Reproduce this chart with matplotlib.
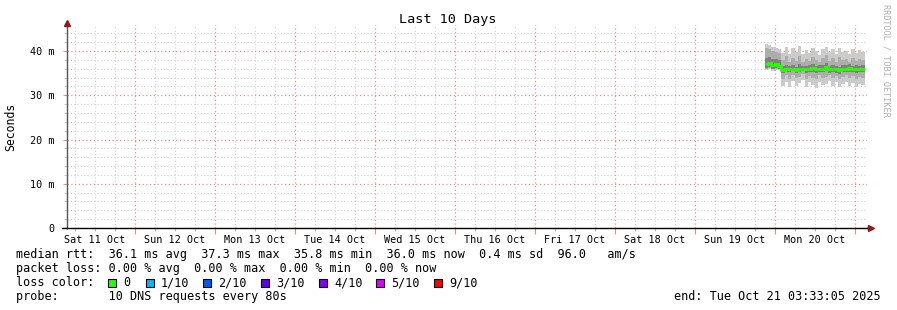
import datetime as dt
import numpy as np
import matplotlib
matplotlib.use("Agg")
import matplotlib.pyplot as plt
import matplotlib.dates as mdates
from matplotlib.ticker import FixedLocator, FuncFormatter, MultipleLocator
from matplotlib.patches import Rectangle

# ---------------- data ----------------
end_time = dt.datetime(2025, 10, 21, 3, 33, 5)
start_time = end_time - dt.timedelta(days=10)
first_step = dt.datetime(2025, 10, 19, 21, 0, 0)   # first hourly sample

median_ms = [37.0, 37.2, 36.8, 37.0, 36.6, 35.8, 35.9, 36.0, 35.9, 35.8,
             35.9, 36.0, 35.9, 36.0, 36.1, 35.9, 36.0, 36.0, 36.5, 35.9,
             36.0, 35.9, 35.7, 35.9, 36.0, 36.1, 35.9, 36.0, 36.0, 36.0]
ping_max = [41.6, 41.3, 41.0, 40.7, 40.4, 39.6, 40.9, 39.3, 40.6, 39.8,
            41.1, 39.4, 40.2, 39.5, 40.8, 40.0, 39.2, 40.5, 41.0, 39.7,
            40.4, 39.4, 40.7, 39.8, 40.1, 39.3, 40.5, 39.6, 40.2, 39.7]
ping_min = [35.8, 35.9, 35.6, 35.8, 35.7, 32.0, 33.0, 31.8, 33.3, 32.2,
            32.7, 33.4, 31.9, 32.9, 32.4, 31.7, 33.1, 32.3, 32.6, 33.2,
            32.1, 33.0, 31.9, 32.5, 33.1, 32.2, 32.8, 31.8, 32.6, 32.4]
ping_hi2 = [40.6, 40.4, 40.0, 39.8, 39.6, 37.9, 38.8, 37.6, 38.5, 37.8,
            39.0, 37.6, 38.3, 37.8, 38.7, 37.9, 37.5, 38.5, 39.1, 37.7,
            38.4, 37.6, 38.6, 37.9, 38.2, 37.6, 38.5, 37.7, 38.2, 37.9]
ping_lo2 = [36.0, 36.1, 35.9, 36.0, 35.9, 33.8, 34.5, 33.6, 34.7, 34.0,
            34.2, 34.8, 33.7, 34.4, 34.0, 33.6, 34.6, 33.9, 34.2, 34.7,
            33.9, 34.4, 33.7, 34.1, 34.6, 33.9, 34.4, 33.6, 34.2, 34.0]
ping_hi3 = [38.4, 38.6, 38.1, 38.2, 37.9, 36.6, 36.9, 36.7, 36.9, 36.5,
            37.0, 36.7, 36.6, 36.9, 37.1, 36.6, 36.8, 36.9, 37.3, 36.6,
            36.9, 36.6, 36.5, 36.8, 36.9, 37.0, 36.7, 36.9, 36.7, 36.8]
ping_lo3 = [36.2, 36.3, 36.0, 36.2, 36.0, 35.1, 35.3, 35.2, 35.4, 35.0,
            35.2, 35.4, 35.1, 35.3, 35.3, 35.0, 35.3, 35.2, 35.5, 35.1,
            35.3, 35.1, 34.9, 35.2, 35.3, 35.3, 35.2, 35.1, 35.3, 35.2]

day_labels = ['Sat 11 Oct', 'Sun 12 Oct', 'Mon 13 Oct', 'Tue 14 Oct', 'Wed 15 Oct',
              'Thu 16 Oct', 'Fri 17 Oct', 'Sat 18 Oct', 'Sun 19 Oct', 'Mon 20 Oct']
y_ticks = [0, 10, 20, 30, 40]
y_tick_labels = ['0', '10 m', '20 m', '30 m', '40 m']

loss_labels = ['0', '1/10', '2/10', '3/10', '4/10', '5/10', '9/10']
loss_colors = ['#26ff00', '#00b8ff', '#0059ff', '#5e00ff', '#7e00ff', '#dd00ff', '#ff0000']

title = 'Last 10 Days'
line_rtt = 'median rtt:  36.1 ms avg  37.3 ms max  35.8 ms min  36.0 ms now  0.4 ms sd  96.0   am/s'
line_loss = 'packet loss: 0.00 % avg  0.00 % max  0.00 % min  0.00 % now'
line_probe = 'probe:       10 DNS requests every 80s'
line_end = 'end: Tue Oct 21 03:33:05 2025'

# ---------------- figure ----------------
W, H = 897, 310
fig = plt.figure(figsize=(W / 100, H / 100), dpi=100)
fig.patch.set_facecolor('white')
MONO = ['DejaVu Sans Mono']

def fx(px):
    return px / W

def fy(py):
    return 1 - py / H

ax_left, ax_right, ax_top, ax_bot = 66.5, 866.5, 25.0, 228.0
ax = fig.add_axes([fx(ax_left), fy(ax_bot), (ax_right - ax_left) / W, (ax_bot - ax_top) / H])
ax.set_facecolor('white')

n = len(median_ms)
edges = mdates.date2num([first_step + dt.timedelta(hours=i) for i in range(n + 1)])

# smoke layers
ax.stairs(ping_max, edges, baseline=ping_min, fill=True, color='#cbcbcb', lw=0, zorder=2)
ax.stairs(ping_hi2, edges, baseline=ping_lo2, fill=True, color='#adadad', lw=0, zorder=3)
ax.stairs(ping_hi3, edges, baseline=ping_lo3, fill=True, color='#808080', lw=0, zorder=4)
# median line
ax.stairs(median_ms, edges, baseline=None, color='#26ff00', lw=2.0, zorder=5)

ax.set_xlim(mdates.date2num(start_time), mdates.date2num(end_time))
ax.set_ylim(0, 45.9)

# grid / ticks
midnights = [dt.datetime(2025, 10, 12) + dt.timedelta(days=i) for i in range(10)]
ax.xaxis.set_major_locator(FixedLocator(mdates.date2num(midnights)))
ax.xaxis.set_major_formatter(FuncFormatter(lambda v, p: ''))
six_hours = [start_time.replace(hour=0, minute=0, second=0) + dt.timedelta(hours=6 * k) for k in range(44)]
six_hours = [t for t in six_hours if start_time < t < end_time and t.hour != 0]
ax.xaxis.set_minor_locator(FixedLocator(mdates.date2num(six_hours)))
noon_map = {}
for i, lab in enumerate(day_labels):
    noon = dt.datetime(2025, 10, 11, 12) + dt.timedelta(days=i)
    noon_map[round(mdates.date2num(noon), 4)] = lab
ax.xaxis.set_minor_formatter(FuncFormatter(lambda v, p: noon_map.get(round(v, 4), '')))

ax.yaxis.set_major_locator(FixedLocator(y_ticks))
ax.yaxis.set_major_formatter(FuncFormatter(lambda v, p: y_tick_labels[y_ticks.index(int(round(v)))]))
ax.yaxis.set_minor_locator(MultipleLocator(2))

dot = (0, (1, 2))
ax.grid(which='major', color='#f28c8c', lw=0.9, ls=dot, zorder=1)
ax.grid(which='minor', color='#d2d2d2', lw=0.8, ls=dot, zorder=1)
ax.set_axisbelow(True)

ax.tick_params(axis='x', which='major', length=4, width=0.8, color='#f28c8c', direction='out')
ax.tick_params(axis='x', which='minor', length=2, width=0.8, color='#bbbbbb', direction='out',
               pad=3, labelsize=7.3)
ax.tick_params(axis='y', which='major', length=3, width=0.8, color='#f28c8c', direction='out',
               pad=6, labelsize=7.3)
ax.tick_params(axis='y', which='minor', length=2, width=0.8, color='#cccccc', direction='out')
for lab in ax.get_xticklabels(minor=True) + ax.get_yticklabels():
    lab.set_family(MONO)

for s in ['top', 'right']:
    ax.spines[s].set_visible(False)
ax.spines['left'].set_color('#555555')
ax.spines['bottom'].set_color('#000000')
ax.spines['left'].set_linewidth(1.0)
ax.spines['bottom'].set_linewidth(1.0)
ax.spines['left'].set_bounds(0, 46.5)

# arrows
fig.add_artist(plt.Line2D([fx(ax_right), fx(872)], [fy(ax_bot), fy(ax_bot)], color='black', lw=1.0))
fig.add_artist(plt.Line2D([fx(62), fx(ax_left)], [fy(ax_bot), fy(ax_bot)], color='black', lw=1.0))
fig.add_artist(plt.Line2D([fx(871)], [fy(ax_bot)], marker='>', ms=4, color='#8b1a1a', lw=0))
fig.add_artist(plt.Line2D([fx(67)], [fy(22.5)], marker='^', ms=4, color='#8b1a1a', lw=0))

# title & labels
fig.text(fx(448), fy(19.5), title, family=MONO, fontsize=9.7, ha='center', va='center')
fig.text(fx(11), fy(127), 'Seconds', family=MONO, fontsize=8.3, rotation=90, ha='center', va='center')
fig.text(fx(886), fy(4), 'RRDTOOL / TOBI OETIKER', family=MONO, fontsize=6.1, rotation=270,
         ha='center', va='top', color='#b0b0b0')

# legend lines
LFS = 8.5
fig.text(fx(16), fy(254.5), line_rtt, family=MONO, fontsize=LFS, ha='left', va='center')
fig.text(fx(16), fy(268.5), line_loss, family=MONO, fontsize=LFS, ha='left', va='center')
fig.text(fx(16), fy(282.5), 'loss color:', family=MONO, fontsize=LFS, ha='left', va='center')
sq_x = [108, 146, 203, 261, 319, 376, 434]
for sx, lab, col in zip(sq_x, loss_labels, loss_colors):
    fig.add_artist(Rectangle((fx(sx), fy(286.5)), 7.5 / W, 7.5 / H, transform=fig.transFigure,
                             facecolor=col, edgecolor='black', lw=0.8))
    fig.text(fx(sx + 15), fy(282.5), lab, family=MONO, fontsize=LFS, ha='left', va='center')
fig.text(fx(16), fy(296.5), line_probe, family=MONO, fontsize=LFS, ha='left', va='center')
fig.text(fx(881), fy(296.5), line_end, family=MONO, fontsize=LFS, ha='right', va='center')

fig.savefig('out.png', dpi=100, facecolor='white')
